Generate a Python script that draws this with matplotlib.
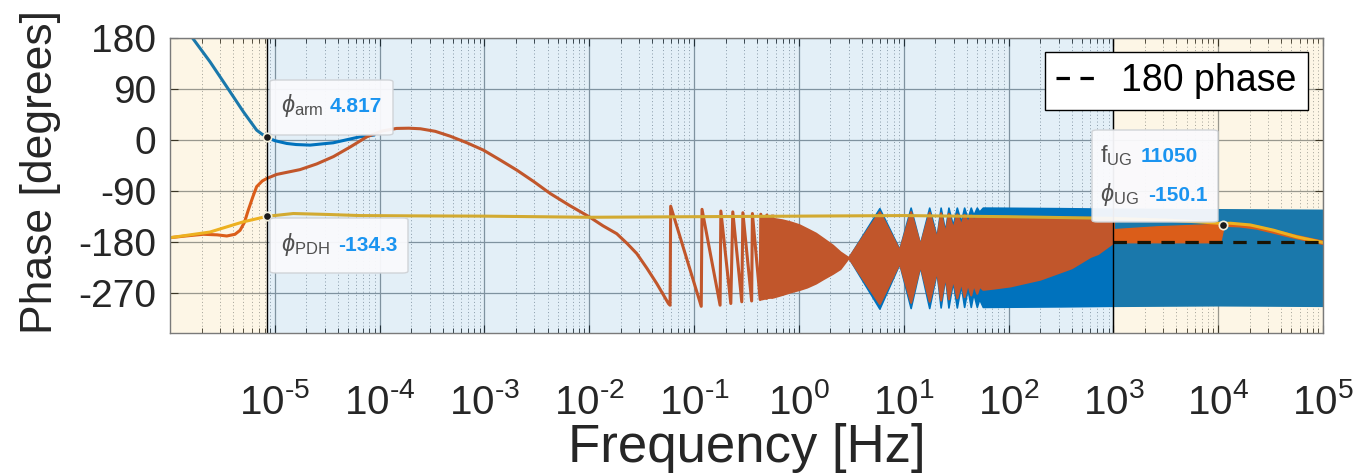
import numpy as np
import matplotlib
matplotlib.use("Agg")
import matplotlib.pyplot as plt
from matplotlib.patches import FancyBboxPatch
from matplotlib.ticker import FixedLocator, LogLocator, NullFormatter, FuncFormatter

plt.rcParams['font.family'] = ['Liberation Sans', 'DejaVu Sans']
plt.rcParams['mathtext.fontset'] = 'custom'
plt.rcParams['mathtext.rm'] = 'Liberation Sans'
plt.rcParams['mathtext.it'] = 'Liberation Sans:italic'
plt.rcParams['mathtext.bf'] = 'Liberation Sans:bold'
plt.rcParams['axes.unicode_minus'] = False

# ── Colours (MATLAB defaults) ─────────────────────────────
C_BLUE   = '#0072BD'
C_ORANGE = '#D95319'
C_YELLOW = '#EDB120'
C_TIP    = '#1a94f0'

# ── Data ──────────────────────────────────────────────────
# blue (arm) phase, low-frequency part
blue_f  = [1.51e-6, 1.61e-6, 2.41e-6, 3.48e-6, 5.01e-6, 6.71e-6, 7.55e-6,
           8.49e-6, 1.0e-5, 1.30e-5, 1.6e-5, 2.17e-5, 3.61e-5, 6.50e-5,
           8.71e-5]
blue_ph = [188, 182, 138, 94, 50, 17.6, 10.5,
           4.8, -1.0, -5.9, -7.8, -8.8, -4.7, 5.9,
           8.8]

# orange (total) phase, smooth part + first sawtooth teeth
orange_f  = [1.0e-6, 1.41e-6, 2.08e-6, 2.82e-6, 3.48e-6, 4.17e-6, 4.66e-6,
             5.13e-6, 5.58e-6, 6.17e-6, 6.71e-6, 7.59e-6, 8.38e-6, 1.04e-5,
             1.74e-5, 2.51e-5, 3.63e-5, 5.25e-5, 7.59e-5, 1.05e-4, 1.45e-4,
             1.9e-4, 2.45e-4, 3.39e-4, 4.70e-4, 6.76e-4, 9.77e-4, 1.41e-3,
             2.04e-3, 2.95e-3, 4.23e-3, 6.46e-3, 9.95e-3, 1.35e-2, 1.83e-2,
             2.29e-2, 2.84e-2, 3.55e-2, 4.41e-2, 5.69e-2, 5.90e-2,
             5.98e-2, 0.117, 0.119, 0.177, 0.180, 0.224, 0.234, 0.285, 0.292,
             0.354, 0.360, 0.427, 0.433, 0.490, 0.495, 0.556, 0.562]
orange_ph = [-172, -169, -166, -167, -169, -166, -159,
             -145, -123.5, -100, -82, -72, -67.6, -60.5,
             -52, -42, -29, -12, 6, 16, 20.6,
             21, 20, 15.5, 7, -4.5, -17.6, -35,
             -53, -73, -94, -115, -135, -151, -165,
             -182, -200, -226, -253, -288, -291,
             -116.5, -293, -122, -291, -125, -288, -126.5, -285, -128,
             -283.6, -129.4, -281, -130.6, -279, -132, -277, -134]

# orange envelope where the oscillation is too dense to resolve
band_f   = [0.437, 0.494, 0.571, 0.692, 0.824, 1.0, 1.19, 1.445, 1.71, 2.09,
            2.47, 2.97, 5.86, 9.08, 11.64, 14.3, 17.5, 20.6, 22.5, 24.8, 26.7,
            29.4, 32.1, 35.1, 37.7, 40.6, 43.6, 46.2, 49.8, 52.5, 56.8, 70.8,
            103.5, 200, 398, 601, 708, 1000]
band_top = [-134, -135.3, -138, -140.5, -144, -149, -156, -164, -173.5, -185,
            -197, -207, -126, -194, -126, -185, -127, -174, -128, -165, -129,
            -156, -130, -150, -131, -145, -132, -141, -133, -138, -134, -135,
            -135, -135.5, -136, -136, -136.5, -137]
band_bot = [-280, -277.6, -276.5, -272, -267.6, -263.5, -259, -252, -244, -235,
            -226.5, -207, -288, -216, -286, -220, -284, -229, -282, -238, -280,
            -244, -278, -249, -276, -252, -273, -254, -270, -257, -263, -261,
            -257, -245, -225, -205, -200, -180]

# orange above 1 kHz
hf_f   = [1000, 2594, 10450, 11300]
hf_top = [-157, -152, -147.5, -148]
hf_bot = [-180, -180, -180, -150]
orange_tail_f  = [11300, 15850, 23440, 33730, 48980, 70790, 100000]
orange_tail_ph = [-149, -150, -154, -161, -168.5, -175, -181]

# blue envelope (visible where it sticks out of the orange one)
bband_f   = [2.97, 5.86, 9.08, 11.64, 14.3, 17.5, 20.6, 22.5, 24.8, 26.7,
             29.4, 32.1, 35.1, 37.7, 40.6, 43.6, 46.2, 49.8, 52.5, 56.8,
             316, 1000, 10000, 100000]
bband_top = [-207, -120, -192, -119, -183, -119, -170, -119, -160, -119,
             -150, -119, -144, -119, -138, -119, -132, -119, -126, -119,
             -120, -121, -122, -123]
bband_bot = [-207, -297, -218, -296, -223, -296, -233, -295, -242, -295,
             -250, -295, -256, -294, -262, -294, -270, -294, -280, -294,
             -293, -292, -291, -292]

# yellow (PDH) phase
pdh_f  = [1.0e-6, 2.41e-6, 5.01e-6, 8.49e-6, 1.50e-5, 3.13e-5, 6.50e-5,
          2.43e-4, 1e-3, 1e-2, 0.1, 1, 10, 100, 1000, 3162, 6310, 11050,
          13030, 20180, 33730, 56360, 93980, 100000]
pdh_ph = [-172, -162, -144, -134.3, -129.4, -131, -133,
          -133.6, -134, -136, -135, -134, -133, -135, -138, -141, -144, -147,
          -146.5, -149.5, -158.8, -170.6, -179.4, -180.5]

# 180-degree reference
ref_f  = [1e3, 1e5]
ref_ph = [-180, -180]

# data tips
tip_f  = [8.49e-6, 8.49e-6, 11050]
tip_ph = [4.817, -134.3, -150.1]

# shaded regions
shade_edges = [1e-6, 8.49e-6, 1e3, 1e5]

xticks = [1e-5, 1e-4, 1e-3, 1e-2, 1e-1, 1e0, 1e1, 1e2, 1e3, 1e4, 1e5]
yticks = [-270, -180, -90, 0, 90, 180]

# ── Figure ────────────────────────────────────────────────
W, H = 1360, 473
fig = plt.figure(figsize=(W / 100, H / 100), dpi=100)
ax = fig.add_axes([170 / W, 1 - 333 / H, (1323 - 170) / W, (333 - 38) / H])
ax.set_xscale('log')
ax.set_xlim(1e-6, 1e5)
ax.set_ylim(-340, 180)

lw = 2.2
ax.fill_between(bband_f, bband_top, bband_bot, color=C_BLUE, lw=1.2, zorder=2)
ax.plot(blue_f, blue_ph, color=C_BLUE, lw=lw, zorder=2)
ax.plot(orange_f, orange_ph, color=C_ORANGE, lw=lw, zorder=3)
ax.fill_between(band_f, band_top, band_bot, color=C_ORANGE, lw=1.5, zorder=3)
ax.fill_between(hf_f, hf_top, hf_bot, color=C_ORANGE, lw=1.0, zorder=3)
ax.plot(orange_tail_f, orange_tail_ph, color=C_ORANGE, lw=lw + 1, zorder=3)
ax.plot(pdh_f, pdh_ph, color=C_YELLOW, lw=lw, zorder=4)
ax.plot(ref_f, ref_ph, color='black', lw=2.3, ls=(0, (4.2, 3.3)), zorder=5,
        label='180 phase')

# translucent shading drawn over the curves, like the original
ax.axvspan(shade_edges[0], shade_edges[1], color=C_YELLOW, alpha=0.11, lw=0, zorder=6)
ax.axvspan(shade_edges[1], shade_edges[2], color=C_BLUE, alpha=0.11, lw=0, zorder=6)
ax.axvspan(shade_edges[2], shade_edges[3], color=C_YELLOW, alpha=0.11, lw=0, zorder=6)
for xv in shade_edges[1:3]:
    ax.axvline(xv, color='black', lw=1.0, zorder=6)

# grid / ticks
ax.xaxis.set_major_locator(FixedLocator(xticks))
ax.xaxis.set_minor_locator(LogLocator(base=10, subs=np.arange(2, 10), numticks=30))
ax.xaxis.set_minor_formatter(NullFormatter())
ax.xaxis.set_major_formatter(FuncFormatter(
    lambda v, p: r'$10^{\text{%d}}$' % int(round(np.log10(v)))))
ax.set_yticks(yticks)
ax.grid(True, which='major', color='#8f969c', lw=0.9, zorder=1)
ax.grid(True, which='minor', axis='x', color='#9aa0a6', lw=0.7, ls=(0, (1, 2.5)), zorder=1)
ax.tick_params(which='both', direction='in', top=True, right=True, colors='#262626')
ax.tick_params(which='major', length=6, width=0.8)
ax.tick_params(which='minor', length=3.5, width=0.6)
ax.tick_params(axis='y', labelsize=28, pad=10)
ax.tick_params(axis='x', labelsize=29, pad=36)
for s in ax.spines.values():
    s.set_color('#7a7a7a')
    s.set_linewidth(1.0)
    s.set_zorder(7)

ax.set_xlabel('Frequency [Hz]', fontsize=38, color='#262626', va='center')
ax.xaxis.set_label_coords(0.5, -0.39)
ax.set_ylabel('Phase [degrees]', fontsize=32, color='#262626', va='center')
ax.yaxis.set_label_coords(-0.1127, 0.546)

# legend
leg = ax.legend(loc='upper right', bbox_to_anchor=(1308 / W, 1 - 52 / H),
                bbox_transform=fig.transFigure, borderaxespad=0, fontsize=27,
                handlelength=1.15, handletextpad=0.6, borderpad=0.3,
                fancybox=False, framealpha=1, edgecolor='black')
leg.get_frame().set_linewidth(1.0)
leg.set_zorder(10)

# data tip markers
ax.plot(tip_f, tip_ph, ls='none', marker='o', ms=6, mfc='#1a1a1a',
        mec='#f4f0dc', mew=1.2, zorder=9)


def tip_box(x0, y0, x1, y1):
    box = FancyBboxPatch((x0 / W, 1 - y1 / H), (x1 - x0) / W, (y1 - y0) / H,
                         boxstyle='round,pad=0,rounding_size=0.004',
                         transform=fig.transFigure, fc='#fafafd', ec='#cfd2d6',
                         lw=1.0, alpha=0.95, zorder=8)
    fig.add_artist(box)


def tip_text(x, y, s, **kw):
    fig.text(x / W, 1 - y / H, s, va='baseline', ha='left', zorder=9, **kw)


tip_box(270, 80, 393, 135)
tip_text(281, 112, r'$\phi_{\mathrm{arm}}$', fontsize=17, color='#505050')
tip_text(330, 112, '%.3f' % tip_ph[0], fontsize=15, color=C_TIP, weight='bold')

tip_box(270, 218, 408, 273)
tip_text(281, 251, r'$\phi_{\mathrm{PDH}}$', fontsize=17, color='#505050')
tip_text(338, 251, '%.1f' % tip_ph[1], fontsize=15, color=C_TIP, weight='bold')

tip_box(1092, 130, 1218, 222)
tip_text(1100, 162, r'$\mathrm{f}_{\mathrm{UG}}$', fontsize=17, color='#505050')
tip_text(1141, 162, '%d' % tip_f[2], fontsize=15, color=C_TIP, weight='bold')
tip_text(1100, 201, r'$\phi_{\mathrm{UG}}$', fontsize=17, color='#505050')
tip_text(1148, 201, '%.1f' % tip_ph[2], fontsize=15, color=C_TIP, weight='bold')

fig.savefig('out.png', dpi=100)
